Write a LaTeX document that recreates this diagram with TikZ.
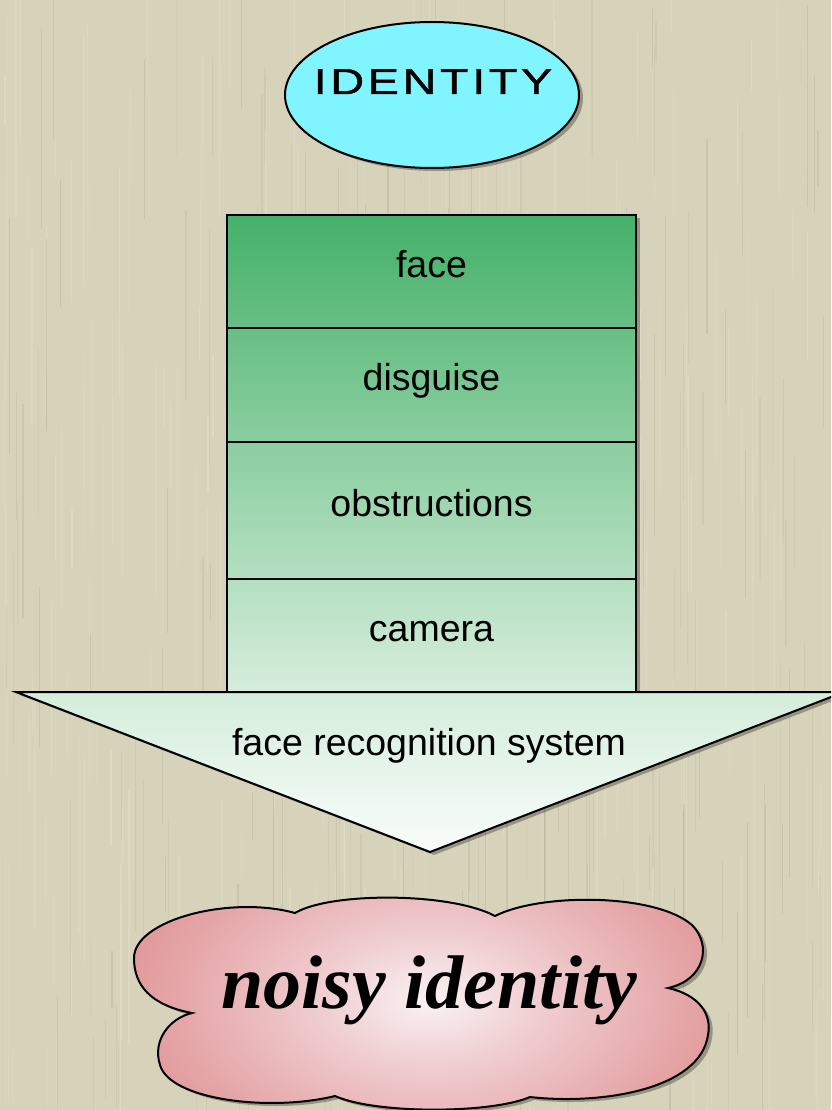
\documentclass[tikz,border=0pt]{standalone}
\usepackage{fontspec}
\setmainfont{Liberation Sans}
\newfontfamily\idfont{Liberation Sans}[FakeStretch=1.3,LetterSpace=10,FakeBold=1.2]
\newfontfamily\noisyfont{Liberation Serif}
\usetikzlibrary{shadows,shapes.geometric}
\definecolor{bgcol}{RGB}{215,211,187}
\definecolor{idfill}{RGB}{128,244,255}
\definecolor{gA}{RGB}{69,177,105}
\definecolor{gB}{RGB}{103,191,132}
\definecolor{gC}{RGB}{138,206,160}
\definecolor{gD}{RGB}{180,223,193}
\definecolor{gE}{RGB}{214,237,220}
\definecolor{triTop}{RGB}{212,237,220}
\definecolor{triBot}{RGB}{250,253,250}
\definecolor{cin}{RGB}{250,242,244}
\definecolor{cmid}{RGB}{240,206,209}
\definecolor{cmid2}{RGB}{229,166,168}
\definecolor{cmid3}{RGB}{218,130,130}
\definecolor{cout}{RGB}{208,104,104}
\definecolor{cfar}{RGB}{202,96,96}
\pgfdeclareradialshading{cloudshade}{\pgfpoint{0bp}{0bp}}{color(0bp)=(cin); color(9bp)=(cmid); color(21bp)=(cmid2); color(34bp)=(cmid3); color(47bp)=(cout); color(75bp)=(cfar)}
\begin{document}
\begin{tikzpicture}[x=1pt,y=-1pt,
  shadowed/.style={drop shadow={shadow xshift=4pt,shadow yshift=-3pt,opacity=0.3,fill=black}},
  rowbox/.style={rectangle, draw=black, line width=2.5pt, minimum width=409pt,
    inner sep=0pt, text height=27pt, text depth=16pt,
    font=\fontsize{37.5}{40}\selectfont, shadowed},
  outline/.style={draw=black, line width=2pt},
  plaintext/.style={inner sep=0pt, anchor=base},
  streak/.style={line width=1.2pt}
]
\useasboundingbox (0,0) rectangle (831,1110);
\clip (0,0) rectangle (831,1110);
\fill[bgcol] (0,0) rectangle (831,1110);
% background fibre texture
\pgfmathsetseed{42}
\foreach \i in {1,...,260}{
  \pgfmathsetmacro\xx{rnd*831}
  \pgfmathsetmacro\yy{rnd*1110-60}
  \pgfmathsetmacro\ll{40+rnd*220}
  \pgfmathsetmacro\op{0.04+rnd*0.10}
  \draw[streak, white, opacity=\op] (\xx,\yy) -- ++(0,\ll);
}
\foreach \i in {1,...,200}{
  \pgfmathsetmacro\xx{rnd*831}
  \pgfmathsetmacro\yy{rnd*1110-60}
  \pgfmathsetmacro\ll{40+rnd*200}
  \pgfmathsetmacro\op{0.03+rnd*0.07}
  \draw[streak, black!60!brown, opacity=\op] (\xx,\yy) -- ++(0,\ll);
}

% identity ellipse
\node[ellipse, outline, fill=idfill, minimum width=294pt, minimum height=146pt,
      inner sep=0pt, shadowed] (identity) at (432,95) {};
\node[plaintext, font=\idfont\fontsize{36}{40}\selectfont] (identitytext) at (433,94) {IDENTITY};

% stack of layers
\node[rowbox, top color=gA, bottom color=gB, minimum height=113pt] (face) at (431.5,271.5) {face};
\node[rowbox, top color=gB, bottom color=gC, minimum height=114pt] (disguise) at (431.5,385) {disguise};
\node[rowbox, top color=gC, bottom color=gD, minimum height=137pt] (obstructions) at (431.5,510.5) {obstructions};
\node[rowbox, top color=gD, bottom color=gE, minimum height=113pt] (camera) at (431.5,635.5) {camera};

% face recognition system arrow
\coordinate (tl) at (16,692);
\coordinate (tr) at (844,692);
\coordinate (tip) at (430,852);
\draw[outline, top color=triTop, bottom color=triBot, line join=miter, shadowed] (tl) -- (tr) -- (tip) -- cycle;
\node[plaintext, font=\fontsize{37.5}{40}\selectfont] (frs) at (429,755) {face recognition system};

% noisy identity cloud
\def\cloudpath{(295,913) .. controls (330,892) and (450,892) .. (495,916)
  .. controls (540,893) and (655,893) .. (692,925)
  .. controls (712,945) and (705,980) .. (668,988)
  .. controls (700,995) and (712,1015) .. (708,1035)
  .. controls (700,1090) and (600,1105) .. (530,1097)
  .. controls (490,1114) and (375,1114) .. (335,1096)
  .. controls (270,1112) and (170,1100) .. (160,1065)
  .. controls (152,1040) and (170,1018) .. (192,1013)
  .. controls (150,1005) and (134,985) .. (134,958)
  .. controls (134,920) and (230,895) .. (295,913) -- cycle}
\fill[cout, shadowed] \cloudpath;
\begin{scope}
  \clip \cloudpath;
  \shade[shading=cloudshade] (130,820) rectangle (730,1180);
\end{scope}
\draw[outline] \cloudpath;
\node[plaintext, font=\noisyfont\bfseries\itshape\fontsize{76}{80}\selectfont] (noisy) at (429,1008) {noisy identity};
\end{tikzpicture}
\end{document}
